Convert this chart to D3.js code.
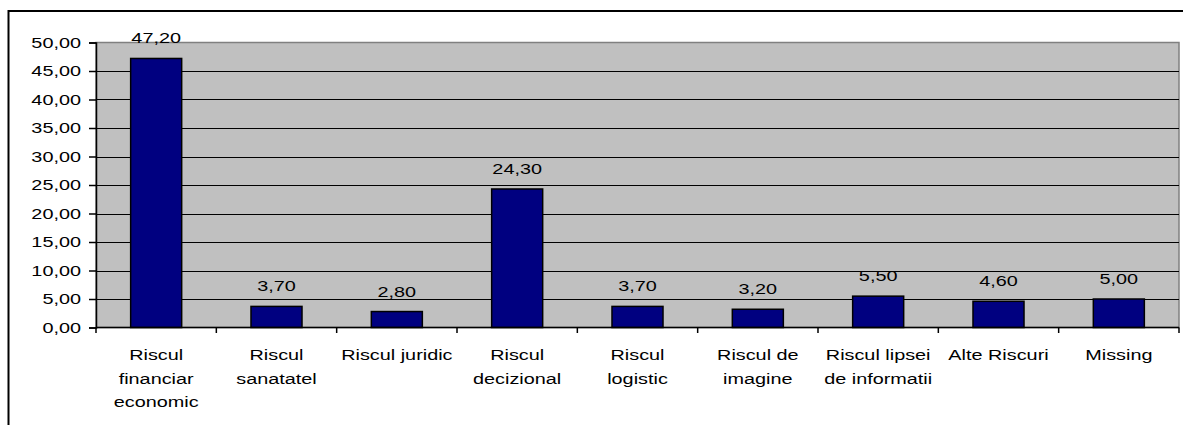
<!DOCTYPE html>
<html>
<head>
<meta charset="utf-8">
<script src="https://cdn.jsdelivr.net/npm/d3@7"></script>
<style>
  html, body { margin: 0; padding: 0; background: #fff; }
  svg { display: block; }
  text { font-family: "Liberation Sans", Arial, sans-serif; fill: #000; }
</style>
</head>
<body>
<svg id="chart" width="1183" height="425"></svg>
<script>
const categories = [
  ["Riscul", "financiar", "economic"],
  ["Riscul", "sanatatel"],
  ["Riscul juridic"],
  ["Riscul", "decizional"],
  ["Riscul", "logistic"],
  ["Riscul de", "imagine"],
  ["Riscul lipsei", "de informatii"],
  ["Alte Riscuri"],
  ["Missing"]
];
const values = [47.2, 3.7, 2.8, 24.3, 3.7, 3.2, 5.5, 4.6, 5.0];
const yTicks = [0, 5, 10, 15, 20, 25, 30, 35, 40, 45, 50];

const fmt = v => v.toFixed(2).replace(".", ",");
const FS = 15.5, SX = 1.28;

const svg = d3.select("#chart");
const mLeft = 96, mRight = 1179, mTop = 42.5, mBottom = 327.5;

// outer chart border (extends beyond the visible window)
svg.append("rect")
  .attr("x", 8.5).attr("y", 11).attr("width", 1200).attr("height", 500)
  .attr("fill", "#fff").attr("stroke", "#000").attr("stroke-width", 2);

const x = d3.scaleBand()
  .domain(d3.range(categories.length))
  .range([mLeft, mRight])
  .paddingInner(0.576)
  .paddingOuter(0.288);
const step = x.step();

const y = d3.scaleLinear().domain([0, 50]).range([mBottom, mTop]);

// plot background
svg.append("rect")
  .attr("x", mLeft).attr("y", mTop).attr("width", mRight - mLeft).attr("height", mBottom - mTop)
  .attr("fill", "#c0c0c0").attr("stroke", "#808080").attr("stroke-width", 1.5);

// gridlines
svg.append("g").selectAll("line").data(yTicks.filter(t => t > 0 && t < 50)).join("line")
  .attr("x1", mLeft).attr("x2", mRight)
  .attr("y1", d => Math.round(y(d)) + 0.5).attr("y2", d => Math.round(y(d)) + 0.5)
  .attr("stroke", "#000").attr("stroke-width", 1.2);

// bars
svg.append("g").selectAll("rect").data(values).join("rect")
  .attr("x", (d, i) => x(i))
  .attr("y", d => y(d))
  .attr("width", x.bandwidth())
  .attr("height", d => y(0) - y(d))
  .attr("fill", "#000080").attr("stroke", "#000").attr("stroke-width", 1.5);

// y axis
const yAxis = svg.append("g").attr("transform", `translate(${mLeft},0)`)
  .call(d3.axisLeft(y).tickValues(yTicks).tickSize(7).tickFormat(""));
yAxis.select(".domain").attr("stroke", "#000").attr("stroke-width", 1.5);
yAxis.selectAll(".tick line").attr("stroke", "#000").attr("stroke-width", 1.5);

svg.append("g").selectAll("text").data(yTicks).join("text")
  .attr("transform", d => `translate(81,${y(d) + 5.4}) scale(${SX},1)`)
  .attr("text-anchor", "end")
  .attr("font-size", FS)
  .text(d => fmt(d));

// x axis
svg.append("line")
  .attr("x1", mLeft).attr("x2", mRight).attr("y1", mBottom).attr("y2", mBottom)
  .attr("stroke", "#000").attr("stroke-width", 1.5);
svg.append("g").selectAll("line").data(d3.range(categories.length + 1)).join("line")
  .attr("x1", i => mLeft + i * step).attr("x2", i => mLeft + i * step)
  .attr("y1", mBottom).attr("y2", mBottom + 5.5)
  .attr("stroke", "#000").attr("stroke-width", 1.5);

// category labels
const cat = svg.append("g").selectAll("g").data(categories).join("g");
cat.each(function(lines, i) {
  const cx = x(i) + x.bandwidth() / 2;
  d3.select(this).selectAll("text").data(lines).join("text")
    .attr("transform", (l, j) => `translate(${cx},${360 + j * 23.5}) scale(${SX},1)`)
    .attr("text-anchor", "middle")
    .attr("font-size", FS)
    .text(l => l);
});

// value labels
svg.append("g").selectAll("text").data(values).join("text")
  .attr("transform", (d, i) => `translate(${x(i) + x.bandwidth() / 2},${y(d) - 15}) scale(${SX},1)`)
  .attr("text-anchor", "middle")
  .attr("font-size", FS)
  .text(d => fmt(d));
</script>
</body>
</html>
